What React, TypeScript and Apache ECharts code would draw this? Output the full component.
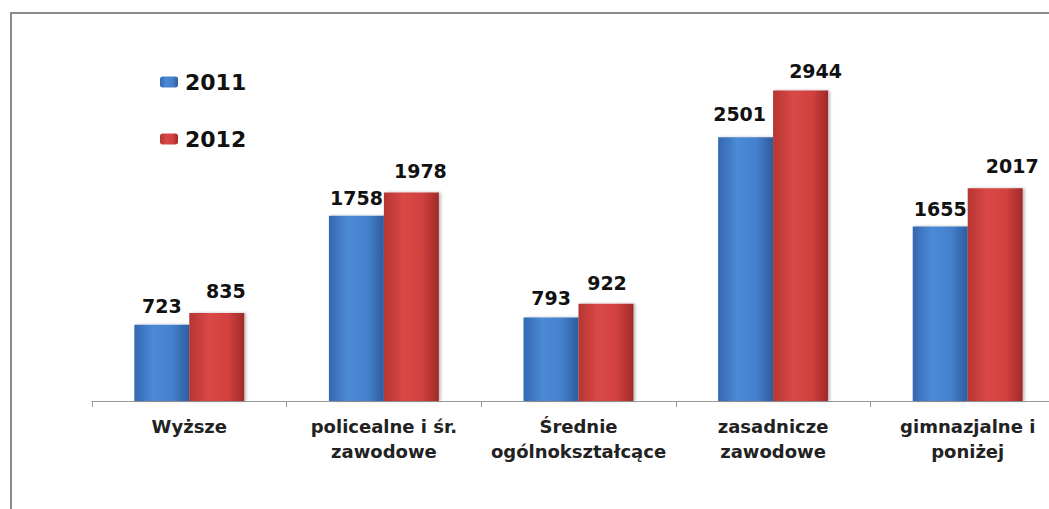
import React, { useEffect, useRef } from "react";
import * as echarts from "echarts";

const categories = [
  "Wyższe",
  "policealne i śr.\nzawodowe",
  "Średnie\nogólnokształcące",
  "zasadnicze\nzawodowe",
  "gimnazjalne i\nponiżej",
];
const seriesNames = ["2011", "2012"];
const values2011 = [723, 1758, 793, 2501, 1655];
const values2012 = [835, 1978, 922, 2944, 2017];

// label nudges (style only, in px) to mimic the original placement
const labelNudge2011: [number, number][] = [[0, 0], [0, 1], [0, -1], [-6, -5], [0, 1]];
const labelNudge2012: [number, number][] = [[9, -3], [9, -3], [1, -2], [15, -1], [17, -4]];

const blueGrad = () =>
  new echarts.graphic.LinearGradient(0, 0, 1, 0, [
    { offset: 0, color: "#3468b0" },
    { offset: 0.35, color: "#4c8ad6" },
    { offset: 0.7, color: "#4580cc" },
    { offset: 1, color: "#2c5c9e" },
  ]);
const redGrad = () =>
  new echarts.graphic.LinearGradient(0, 0, 1, 0, [
    { offset: 0, color: "#b53532" },
    { offset: 0.35, color: "#d94846" },
    { offset: 0.7, color: "#d2413f" },
    { offset: 1, color: "#9e2a28" },
  ]);

export default function App() {
  const ref = useRef<HTMLDivElement>(null);
  useEffect(() => {
    if (!ref.current) return;
    const chart = echarts.init(ref.current, null, { renderer: "svg" });
    const labelStyle = {
      show: true,
      position: "top" as const,
      distance: 9,
      fontFamily: "DejaVu Sans",
      fontWeight: "bold" as const,
      fontSize: 19,
      color: "#111",
    };
    const withNudge = (vals: number[], nudges: [number, number][]) =>
      vals.map((v, i) => ({ value: v, label: { offset: nudges[i] } }));
    chart.setOption({
      animation: false,
      backgroundColor: "#ffffff",
      graphic: [
        {
          type: "polyline",
          shape: { points: [[11, 620], [11, 13], [1200, 13]] },
          style: { fill: "none", stroke: "#8a8a8a", lineWidth: 2 },
          z: 0,
        },
      ],
      legend: {
        orient: "vertical",
        left: 160,
        top: 71,
        padding: 0,
        itemGap: 35,
        itemWidth: 18,
        itemHeight: 11,
        textStyle: {
          fontFamily: "DejaVu Sans",
          fontWeight: "bold",
          fontSize: 22,
          color: "#111",
          padding: [0, 0, 0, 2],
        },
        data: seriesNames,
      },
      grid: {
        left: 92,
        width: 973,
        top: 32,
        bottom: 108,
        outerBoundsMode: "none",
        containLabel: false,
      },
      xAxis: {
        type: "category",
        data: categories,
        axisLine: { show: true, lineStyle: { color: "#999", width: 1 } },
        axisTick: { show: true, length: 6, lineStyle: { color: "#999" } },
        axisLabel: {
          fontFamily: "DejaVu Sans",
          fontSize: 18,
          fontWeight: "bold",
          color: "#222",
          lineHeight: 25,
          margin: 13,
          interval: 0,
          hideOverlap: false,
        },
      },
      yAxis: {
        type: "value",
        min: 0,
        max: 3500,
        show: false,
        splitLine: { show: false },
      },
      series: [
        {
          name: seriesNames[0],
          type: "bar",
          data: withNudge(values2011, labelNudge2011),
          barGap: "0%",
          barCategoryGap: "43.5%",
          itemStyle: {
            color: blueGrad(),
            shadowColor: "rgba(0,0,0,0.25)",
            shadowBlur: 3,
            shadowOffsetX: 2,
          },
          label: labelStyle,
        },
        {
          name: seriesNames[1],
          type: "bar",
          data: withNudge(values2012, labelNudge2012),
          barGap: "0%",
          barCategoryGap: "43.5%",
          itemStyle: {
            color: redGrad(),
            shadowColor: "rgba(0,0,0,0.25)",
            shadowBlur: 3,
            shadowOffsetX: 2,
          },
          label: labelStyle,
        },
      ],
    });
    return () => chart.dispose();
  }, []);
  return (
    <div
      ref={ref}
      style={{ position: "fixed", left: 0, top: 0, width: 1049, height: 509 }}
    />
  );
}
